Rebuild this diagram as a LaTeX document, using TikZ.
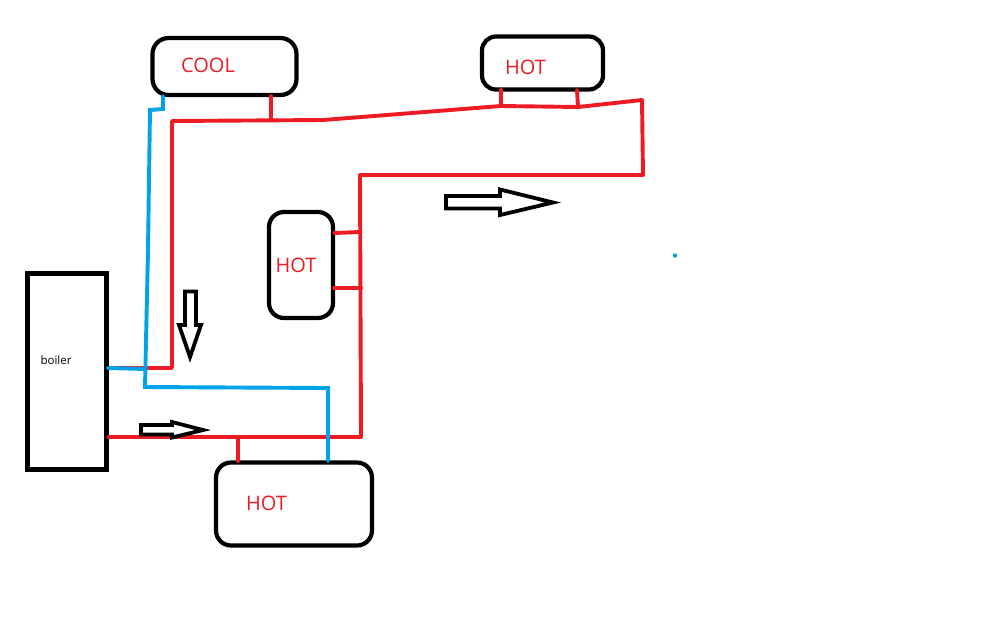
\documentclass[tikz,border=0pt]{standalone}
\usepackage{fontspec}
\setmainfont{Open Sans}
\definecolor{pipered}{RGB}{237,28,36}
\definecolor{pipeblue}{RGB}{0,162,232}
\tikzset{
  unit/.style={draw=black,line width=4.2pt,rounded corners=#1,inner sep=0pt,fill=white},
  unit/.default=14pt,
  lbl/.style={text=pipered,font=\fontsize{20}{20}\selectfont,inner sep=0pt},
  red pipe/.style={draw=pipered,line width=3.9pt,line cap=round,line join=round},
  blue pipe/.style={draw=pipeblue,line width=3.9pt,line cap=round,line join=miter},
  flow/.style={draw=black,line width=3.8pt,fill=white,line join=miter}
}
\begin{document}
\begin{tikzpicture}[x=1pt,y=-1pt]
\useasboundingbox (0,0) rectangle (1000,625);
% units
\node[unit=0pt,minimum width=79pt,minimum height=196pt] (boiler) at (67,371.5) {};
\node[unit=16pt,minimum width=144pt,minimum height=57pt] (cool) at (224.5,66.5) {};
\node[unit=14pt,minimum width=121pt,minimum height=53pt] (hotr) at (542.5,63) {};
\node[unit=15pt,minimum width=64pt,minimum height=106pt] (hotm) at (301,265) {};
\node[unit=15pt,minimum width=156pt,minimum height=83pt] (hotb) at (294,504) {};
% junctions
\coordinate (bu) at (108,368);
\coordinate (bl) at (108,437);
\coordinate (r1) at (172,368);
\coordinate (r2) at (172,121);
\coordinate (r3) at (323,120);
\coordinate (r4) at (501,106);
\coordinate (r5) at (578,107);
\coordinate (r6) at (642,100);
\coordinate (r7) at (643,175);
\coordinate (r8) at (360,175);
\coordinate (r9) at (361,437);
\coordinate (jc) at (271,120);
\coordinate (jm1) at (360,232);
\coordinate (jm2) at (361,288);
\coordinate (jb) at (238,437);
\coordinate (c1) at (271,96);
\coordinate (h1) at (501,90);
\coordinate (h2) at (577,90);
\coordinate (m1) at (334,233);
\coordinate (m2) at (334,288);
\coordinate (b1) at (238,461);
% red pipes
\draw[red pipe] (bu) -- (r1) -- (r2) -- (r3) -- (r4) -- (r5) -- (r6) -- (r7) -- (r8) -- (r9) -- (bl);
\draw[red pipe] (c1) -- (jc);
\draw[red pipe] (h1) -- (r4);
\draw[red pipe] (h2) -- (r5);
\draw[red pipe] (m1) -- (jm1);
\draw[red pipe] (m2) -- (jm2);
\draw[red pipe] (b1) -- (jb);
% blue pipes
\coordinate (t1) at (163,96);
\coordinate (t2) at (163,109);
\coordinate (t3) at (150,110);
\coordinate (t4) at (148,250);
\coordinate (t5) at (145,387);
\coordinate (t6) at (328,388);
\coordinate (t7) at (328,461);
\coordinate (t8) at (145,369);
\draw[blue pipe] (t1) -- (t2) -- (t3) -- (t4) -- (t5) -- (t6) -- (t7);
\draw[blue pipe] (bu) -- (t8);
\fill[pipeblue] (675,255.5) circle (2.2pt);
% labels
\node[lbl] (lcool) at (208,65) {COOL};
\node[lbl] (lhotr) at (525.5,67.5) {HOT};
\node[lbl] (lhotm) at (296,265.5) {HOT};
\node[lbl] (lhotb) at (266.5,503.5) {HOT};
\node[inner sep=0pt,font=\fontsize{11.5}{11.5}\selectfont] (lboil) at (56,360) {boiler};
% flow arrows
\draw[flow] (446,196) -- (500,196) -- (500,189.5) -- (553,202.5) -- (500,215) -- (500,208.5) -- (446,208.5) -- cycle;
\draw[flow] (185,291.5) -- (196,291.5) -- (196,325) -- (201,325) -- (190,357) -- (179,325) -- (185,325) -- cycle;
\draw[flow] (141,425) -- (172,425) -- (172,422) -- (203,430) -- (172,437.5) -- (172,434.5) -- (141,434.5) -- cycle;
\end{tikzpicture}
\end{document}
